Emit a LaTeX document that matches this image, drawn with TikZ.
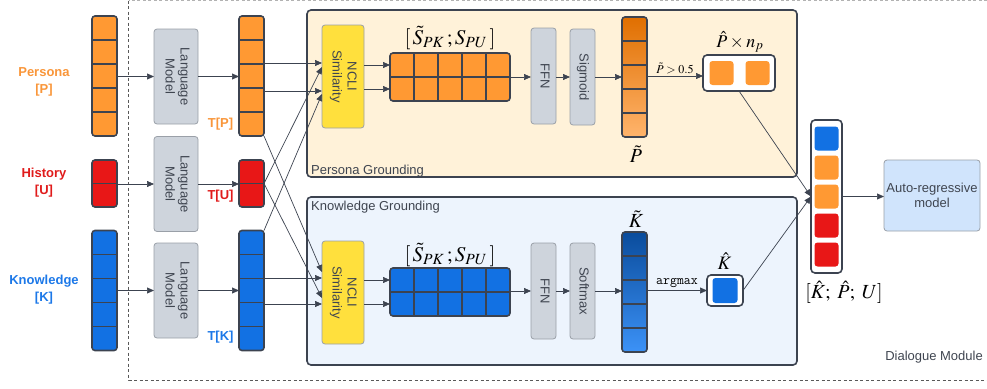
\documentclass[tikz,border=0pt]{standalone}
\usepackage{mathptmx}
\usepackage{fontspec}
\setsansfont{Liberation Sans}
\usepackage{graphicx}
\usetikzlibrary{arrows.meta,positioning}

\definecolor{bordc}{HTML}{3C4350}
\definecolor{perso}{HTML}{FF9933}
\definecolor{histr}{HTML}{E81717}
\definecolor{knowb}{HTML}{1271E3}
\definecolor{lmfill}{HTML}{CED4DC}
\definecolor{lmdraw}{HTML}{9AA0A8}
\definecolor{nclify}{HTML}{FFE03D}
\definecolor{cream}{HTML}{FFF2D9}
\definecolor{paleb}{HTML}{EDF4FD}
\definecolor{autofill}{HTML}{D0E4FC}
\definecolor{txtg}{HTML}{3F4550}
\definecolor{ptop}{HTML}{E06F00}
\definecolor{pbot}{HTML}{FFB46C}
\definecolor{ktop}{HTML}{0A4C9C}
\definecolor{kbot}{HTML}{3C92F7}
\definecolor{plabel}{HTML}{F9963A}
\definecolor{hlabel}{HTML}{E01B1B}
\definecolor{klabel}{HTML}{1C78E8}

\newcommand{\vtext}[1]{\rotatebox{-90}{\begin{tabular}{@{}c@{}}#1\end{tabular}}}

\tikzset{
  col/.style={draw=bordc, line width=1.6pt, rounded corners=3pt, minimum width=25pt, inner sep=0pt, outer sep=0pt},
  sep/.style={draw=bordc, line width=1.4pt},
  blk/.style={draw=lmdraw, fill=lmfill, line width=0.8pt, rounded corners=3pt, inner sep=0pt, outer sep=0pt, text=txtg, align=center},
  grp/.style={draw=bordc, line width=1.6pt, rounded corners=4pt, minimum width=490pt, inner sep=0pt, outer sep=0pt},
  sq/.style={rounded corners=3pt, minimum width=24pt, minimum height=24pt, inner sep=0pt},
  arr/.style={draw=bordc, line width=0.7pt, -{Triangle[length=7pt,width=6pt]}},
  lab/.style={font=\sffamily\bfseries\fontsize{13}{17}\selectfont, align=center},
  mlab/.style={font=\fontsize{20}{22}\selectfont, inner sep=0pt},
}

\begin{document}
\begin{tikzpicture}[x=1pt,y=-1pt,font=\sffamily\fontsize{13}{15}\selectfont]
  \useasboundingbox (0,0) rectangle (987,388);
  % dialogue module frame
  \draw[dashed, gray!60, line width=0.6pt, dash pattern=on 3pt off 2.5pt] (987,0.5) -- (128.5,0.5);
  \draw[dashed, gray!70!black, line width=0.6pt, dash pattern=on 3pt off 2.5pt] (128.5,0.5) -- (128.5,380) -- (987,380);
  \node[anchor=base east, inner sep=0pt, text=txtg] (dmlab) at (983,360.5) {Dialogue Module};

  % grounding boxes
  \node[grp, fill=cream, minimum height=167pt] (pg) at (552,93.5) {};
  \node[grp, fill=paleb, minimum height=168pt] (kg) at (552,281) {};
  \node[anchor=base west, inner sep=0pt, text=txtg] (pglab) at ([xshift=4pt,yshift=3pt]pg.south west) {Persona Grounding};
  \node[anchor=base west, inner sep=0pt, text=txtg] (kglab) at ([xshift=4pt,yshift=-13.5pt]kg.north west) {Knowledge Grounding};

  % inputs
  \node[lab, text=plabel] (plab) at (44,81.5) {Persona\\{[P]}};
  \node[lab, text=hlabel] (hlab) at (44,182.5) {History\\{[U]}};
  \node[lab, text=klabel] (klab) at (44,289.5) {Knowledge\\{[K]}};
  \node[col, fill=perso, minimum height=120pt] (pin) at (104.5,76) {};
  \node[col, fill=histr, minimum height=47pt] (hin) at (104.5,183.5) {};
  \node[col, fill=knowb, minimum height=120pt] (kin) at (104.5,290.5) {};
  \foreach \k in {1,...,4} {
    \draw[sep] (pin.north west) ++(0,24*\k) -- ++(25,0);
    \draw[sep] (kin.north west) ++(0,24*\k) -- ++(25,0);
  }
  \draw[sep] (hin.west) -- (hin.east);

  % language models
  \node[blk, minimum width=44pt, minimum height=95pt] (lmp) at (176,76.5) {\vtext{Language\\Model}};
  \node[blk, minimum width=44pt, minimum height=95pt] (lmu) at (176,184) {\vtext{Language\\Model}};
  \node[blk, minimum width=44pt, minimum height=95pt] (lmk) at (176,290.5) {\vtext{Language\\Model}};

  % token embeddings
  \node[col, fill=perso, minimum height=120pt] (tp) at (251.5,76) {};
  \node[col, fill=histr, minimum height=47pt] (tu) at (251.5,183.5) {};
  \node[col, fill=knowb, minimum height=120pt] (tk) at (251.5,290.5) {};
  \foreach \k in {1,...,4} {
    \draw[sep] (tp.north west) ++(0,24*\k) -- ++(25,0);
    \draw[sep] (tk.north west) ++(0,24*\k) -- ++(25,0);
  }
  \draw[sep] (tu.west) -- (tu.east);
  \node[lab, text=plabel] (tplab) at (220.5,124) {T[P]};
  \node[lab, text=hlabel] (tulab) at (220.5,196.5) {T[U]};
  \node[lab, text=klabel] (tklab) at (220.5,337) {T[K]};

  % persona grounding
  \node[blk, fill=nclify, minimum width=42pt, minimum height=103pt] (ncp) at (343,76.5) {\vtext{NCLI\\Similarity}};
  \node[col, fill=perso, minimum width=120pt, minimum height=48pt] (mp) at (450,77) {};
  \foreach \i in {1,...,4} \draw[sep] (mp.north west) ++(24*\i,0) -- ++(0,48);
  \draw[sep] (mp.west) -- (mp.east);
  \node[mlab, font=\fontsize{21}{23}\selectfont] (mplab) at (450,38) {$[\,\tilde{S}_{PK}\,;S_{PU}\,]$};
  \node[blk, minimum width=25pt, minimum height=96pt] (ffnp) at (543.5,76) {\vtext{FFN}};
  \node[blk, minimum width=25pt, minimum height=96pt] (sigp) at (582.5,77) {\vtext{Sigmoid}};
  \node[col, top color=ptop, bottom color=pbot, minimum height=120pt] (ptil) at (634.5,77) {};
  \foreach \k in {1,...,4} \draw[sep] (ptil.north west) ++(0,24*\k) -- ++(25,0);
  \node[mlab] (ptlab) at (636,154) {$\tilde{P}$};
  \node[col, fill=white, minimum width=72pt, minimum height=36pt, rounded corners=4pt] (phat) at (739,73) {};
  \node[sq, fill=perso] (phat1) at (721.5,73) {};
  \node[sq, fill=perso] (phat2) at (757.5,73) {};
  \node[mlab, font=\fontsize{18}{20}\selectfont] (phlab) at (740,42) {$\hat{P}\times n_p$};

  % knowledge grounding
  \node[blk, fill=nclify, minimum width=42pt, minimum height=103pt] (nck) at (343,292.5) {\vtext{NCLI\\Similarity}};
  \node[col, fill=knowb, minimum width=120pt, minimum height=48pt] (mk) at (450,292) {};
  \foreach \i in {1,...,4} \draw[sep] (mk.north west) ++(24*\i,0) -- ++(0,48);
  \draw[sep] (mk.west) -- (mk.east);
  \node[mlab, font=\fontsize{21}{23}\selectfont] (mklab) at (450,255) {$[\,\tilde{S}_{PK}\,;S_{PU}\,]$};
  \node[blk, minimum width=25pt, minimum height=96pt] (ffnk) at (543.5,291) {\vtext{FFN}};
  \node[blk, minimum width=25pt, minimum height=96pt] (softk) at (582.5,291) {\vtext{Softmax}};
  \node[col, top color=ktop, bottom color=kbot, minimum height=120pt] (ktil) at (634.5,292) {};
  \foreach \k in {1,...,4} \draw[sep] (ktil.north west) ++(0,24*\k) -- ++(25,0);
  \node[mlab] (ktlab) at (636,219) {$\tilde{K}$};
  \node[col, fill=white, minimum width=36pt, minimum height=31pt, rounded corners=4pt] (khat) at (725,290.5) {};
  \node[sq, fill=knowb, minimum width=25pt, minimum height=25pt] (khat1) at (725,290.5) {};
  \node[mlab, font=\fontsize{19}{21}\selectfont] (khlab) at (724.5,261) {$\hat{K}$};

  % concatenation and decoder
  \node[col, fill=white, minimum width=31pt, minimum height=153pt, rounded corners=4pt] (cat) at (826.5,196.5) {};
  \foreach \c [count=\k] in {knowb,perso,perso,histr,histr}
    \node[sq, fill=\c] (cat\k) at (826.5,{196.5+29*\k-87}) {};
  \node[mlab] (catlab) at (844,292) {$[\hat{K};\;\hat{P};\;U]$};
  \node[blk, fill=autofill, minimum width=96pt, minimum height=71pt] (auto) at (932,195.5) {Auto-regressive\\model};

  % encoder arrows
  \draw[arr] (pin.east |- lmp) -- (lmp.west);
  \draw[arr] (lmp.east) -- (lmp.east -| tp.west);
  \draw[arr] (hin.east |- lmu) -- (lmu.west);
  \draw[arr] (lmu.east) -- (lmu.east -| tu.west);
  \draw[arr] (kin.east |- lmk) -- (lmk.west);
  \draw[arr] (lmk.east) -- (lmk.east -| tk.west);

  % into similarity
  \draw[arr] (tp.east |- 0,63) -- (ncp.west |- 0,63);
  \draw[arr] (tp.east |- 0,91) -- (ncp.west |- 0,91);
  \draw[arr] (tu.east) -- (ncp.west |- 0,67);
  \draw[arr] (tk.north east) -- (ncp.west |- 0,94);
  \draw[arr] (tp.south east) -- (nck.west |- 0,272);
  \draw[arr] (tu.east) -- (nck.west |- 0,298);
  \draw[arr] (tk.east |- 0,278) -- (nck.west |- 0,278);
  \draw[arr] (tk.east |- 0,304) -- (nck.west |- 0,304);

  % persona path
  \draw[arr] (ncp.east |- 0,65) -- (mp.west |- 0,65);
  \draw[arr] (ncp.east |- 0,89) -- (mp.west |- 0,89);
  \draw[arr] (mp.east) -- (mp.east -| ffnp.west);
  \draw[arr] (ffnp.east |- mp) -- (sigp.west |- mp);
  \draw[arr] (sigp.east |- mp) -- (ptil.west |- mp);
  \draw[arr] (ptil.east |- 0,76) -- (phat.west |- 0,76)
    node[midway, above, inner sep=2pt, font=\fontsize{12}{13}\selectfont] (thr) {$\tilde{P}>0.5$};
  \draw[arr] (phat.south) -- (cat.west);

  % knowledge path
  \draw[arr] (nck.east |- 0,280) -- (mk.west |- 0,280);
  \draw[arr] (nck.east |- 0,304) -- (mk.west |- 0,304);
  \draw[arr] (mk.east |- ffnk) -- (ffnk.west);
  \draw[arr] (ffnk.east) -- (softk.west);
  \draw[arr] (softk.east) -- (softk.east -| ktil.west);
  \draw[arr] (ktil.east |- khat) -- (khat.west)
    node[midway, above, inner sep=3pt, font=\ttfamily\fontsize{13.5}{15}\selectfont] (argm) {argmax};
  \draw[arr] (khat.east) -- (cat.west);

  % decoder
  \draw[arr] (cat.east) -- (cat.east -| auto.west);
\end{tikzpicture}
\end{document}
